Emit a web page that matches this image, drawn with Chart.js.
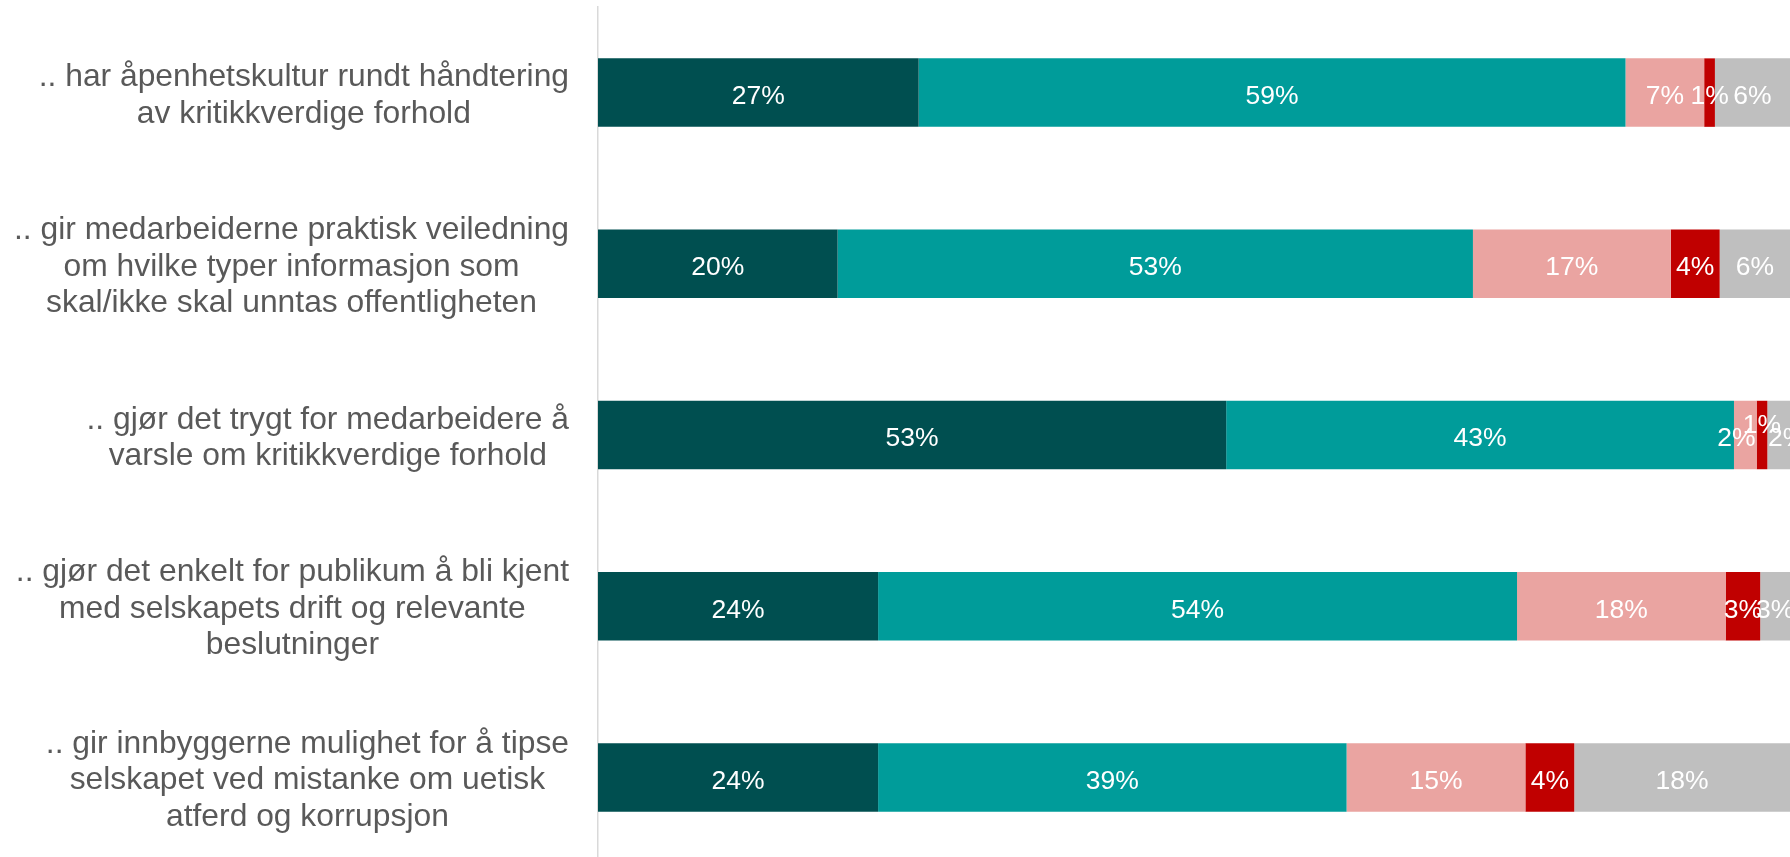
<!DOCTYPE html>
<html>
<head>
<meta charset="utf-8">
<script src="https://cdn.jsdelivr.net/npm/chart.js@4.4.1/dist/chart.umd.min.js"></script>
<style>
html,body{margin:0;padding:0;background:#fff;overflow:hidden;}
#wrap{width:1790px;height:870px;}
</style>
</head>
<body>
<div id="wrap"><canvas id="c" width="1790" height="870"></canvas></div>
<script>
const categories = [
  [".. har åpenhetskultur rundt håndtering", "av kritikkverdige forhold"],
  [".. gir medarbeiderne praktisk veiledning", "om hvilke typer informasjon som", "skal/ikke skal unntas offentligheten"],
  [".. gjør det trygt for medarbeidere å", "varsle om kritikkverdige forhold"],
  [".. gjør det enkelt for publikum å bli kjent", "med selskapets drift og relevante", "beslutninger"],
  [".. gir innbyggerne mulighet for å tipse", "selskapet ved mistanke om uetisk", "atferd og korrupsjon"]
];
const seriesNames = ["Helt enig", "Delvis enig", "Delvis uenig", "Helt uenig", "Vet ikke"];
const heltEnig    = [26.9, 20.1, 52.7, 23.5, 23.5];
const delvisEnig  = [59.3, 53.3, 42.6, 53.6, 39.3];
const delvisUenig = [6.6, 16.6, 1.9, 17.5, 15.0];
const heltUenig   = [0.9, 4.1, 0.9, 2.9, 4.1];
const vetIkke     = [6.3, 5.9, 2.0, 2.5, 18.1];

const seriesValues = [heltEnig, delvisEnig, delvisUenig, heltUenig, vetIkke];
const colors = ["#004F50", "#009C9A", "#EAA4A1", "#C00000", "#BFBFBF"];

const FONT = "'Liberation Sans', Arial, sans-serif";

const labelPlugin = {
  id: 'customLabels',
  afterDraw(chart) {
    const ctx = chart.ctx;
    const yScale = chart.scales.y;
    ctx.save();
    ctx.fillStyle = '#595959';
    ctx.font = '31.8px ' + FONT;
    ctx.textAlign = 'center';
    ctx.textBaseline = 'middle';
    const rightEdge = 569;
    const lh = 36.5;
    categories.forEach((lines, j) => {
      const yc = yScale.getPixelForValue(j) + 3;
      let maxW = 0;
      lines.forEach(l => { maxW = Math.max(maxW, ctx.measureText(l).width); });
      const xc = rightEdge - maxW / 2;
      const y0 = yc - (lines.length - 1) * lh / 2;
      lines.forEach((l, k) => ctx.fillText(l, xc, y0 + k * lh));
    });
    ctx.restore();

    const nudges = { '2-2': [-9, 0], '2-3': [0, -13], '2-4': [8, 0] };
    ctx.save();
    ctx.fillStyle = '#FFFFFF';
    ctx.font = '26.5px ' + FONT;
    ctx.textAlign = 'center';
    ctx.textBaseline = 'middle';
    chart.data.datasets.forEach((ds, i) => {
      const meta = chart.getDatasetMeta(i);
      meta.data.forEach((bar, j) => {
        const v = ds.data[j];
        const xc = (bar.x + bar.base) / 2;
        const nd = nudges[j + '-' + i] || [0, 0];
        ctx.fillText(Math.round(v) + '%', xc + nd[0], bar.y + 4 + nd[1]);
      });
    });
    ctx.restore();
  }
};

new Chart(document.getElementById('c'), {
  type: 'bar',
  data: {
    labels: categories.map(c => c.join(' ')),
    datasets: seriesValues.map((vals, i) => ({
      label: seriesNames[i],
      data: vals,
      backgroundColor: colors[i],
      borderWidth: 0,
      categoryPercentage: 0.4,
      barPercentage: 1.0
    }))
  },
  options: {
    indexAxis: 'y',
    responsive: false,
    animation: false,
    devicePixelRatio: 1,
    layout: { padding: { top: 7, bottom: 7, left: 0, right: 0 } },
    plugins: { legend: { display: false }, tooltip: { enabled: false } },
    scales: {
      x: { stacked: true, min: 0, max: 100, display: false },
      y: {
        stacked: true,
        grid: { display: false },
        border: { display: true, color: '#D9D9D9', width: 1.5 },
        ticks: { display: false },
        afterFit(scale) { scale.width = 598; }
      }
    }
  },
  plugins: [labelPlugin]
});
</script>
</body>
</html>
